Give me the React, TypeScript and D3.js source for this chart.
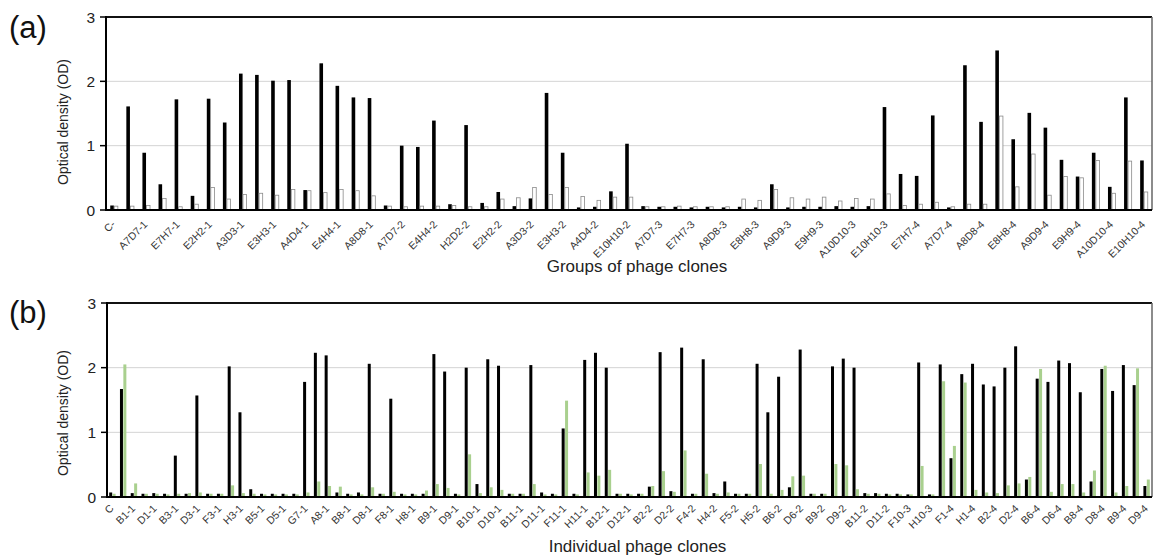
import React from 'react';
import * as d3 from 'd3';

const W = 1153;
const H = 559;

// Panel (a): groups of phage clones. The axis names every second group.
const groupLabels = [
  'C-', 'A7D7-1', 'E7H7-1', 'E2H2-1', 'A3D3-1', 'E3H3-1', 'A4D4-1', 'E4H4-1', 'A8D8-1',
  'A7D7-2', 'E4H4-2', 'H2D2-2', 'E2H2-2', 'A3D3-2', 'E3H3-2', 'A4D4-2', 'E10H10-2',
  'A7D7-3', 'E7H7-3', 'A8D8-3', 'E8H8-3', 'A9D9-3', 'E9H9-3', 'A10D10-3', 'E10H10-3',
  'E7H7-4', 'A7D7-4', 'A8D8-4', 'E8H8-4', 'A9D9-4', 'E9H9-4', 'A10D10-4', 'E10H10-4',
];
const groupTarget = [
  0.07, 1.61, 0.89, 0.40, 1.72, 0.22, 1.73, 1.36, 2.12, 2.10, 2.01, 2.02, 0.31, 2.28, 1.93, 1.75,
  1.74, 0.07, 1.00, 0.98, 1.39, 0.09, 1.32, 0.11, 0.28, 0.06, 0.18, 1.82, 0.89, 0.04, 0.05, 0.29,
  1.03, 0.06, 0.05, 0.05, 0.04, 0.05, 0.04, 0.05, 0.04, 0.40, 0.04, 0.05, 0.05, 0.06, 0.05, 0.06,
  1.60, 0.56, 0.53, 1.47, 0.04, 2.25, 1.37, 2.48, 1.10, 1.51, 1.28, 0.78, 0.52, 0.89, 0.36, 1.75,
  0.77,
];
const groupControl = [
  0.06, 0.06, 0.07, 0.18, 0.05, 0.09, 0.35, 0.17, 0.24, 0.26, 0.23, 0.32, 0.30, 0.27, 0.32, 0.30,
  0.22, 0.06, 0.05, 0.06, 0.06, 0.07, 0.05, 0.05, 0.17, 0.19, 0.35, 0.24, 0.35, 0.21, 0.15, 0.20,
  0.20, 0.05, 0.05, 0.06, 0.05, 0.05, 0.05, 0.17, 0.15, 0.32, 0.19, 0.17, 0.20, 0.14, 0.18, 0.17,
  0.25, 0.07, 0.09, 0.12, 0.05, 0.09, 0.09, 1.46, 0.36, 0.87, 0.23, 0.52, 0.50, 0.77, 0.26, 0.76,
  0.28,
];

// Panel (b): individual phage clones. The axis names every second clone.
const cloneLabels = [
  'C', 'B1-1', 'D1-1', 'B3-1', 'D3-1', 'F3-1', 'H3-1', 'B5-1', 'D5-1', 'G7-1', 'A8-1', 'B8-1',
  'D8-1', 'F8-1', 'H8-1', 'B9-1', 'D9-1', 'B10-1', 'D10-1', 'B11-1', 'D11-1', 'F11-1', 'H11-1',
  'B12-1', 'D12-1', 'B2-2', 'D2-2', 'F4-2', 'H4-2', 'F5-2', 'H5-2', 'B6-2', 'D6-2', 'B9-2',
  'D9-2', 'B11-2', 'D11-2', 'F10-3', 'H10-3', 'F1-4', 'H1-4', 'B2-4', 'D2-4', 'B6-4', 'D6-4',
  'B8-4', 'D8-4', 'B9-4', 'D9-4',
];
const cloneTarget = [
  0.07, 1.67, 0.06, 0.05, 0.06, 0.05, 0.64, 0.05, 1.57, 0.05, 0.05, 2.02, 1.31, 0.12, 0.05, 0.05,
  0.05, 0.05, 1.78, 2.23, 2.19, 0.07, 0.05, 0.07, 2.06, 0.05, 1.52, 0.05, 0.05, 0.05, 2.21, 1.94,
  0.05, 2.00, 0.20, 2.13, 2.03, 0.05, 0.05, 2.04, 0.07, 0.05, 1.06, 0.05, 2.12, 2.23, 2.00, 0.05,
  0.05, 0.05, 0.16, 2.24, 0.09, 2.31, 0.05, 2.13, 0.06, 0.24, 0.05, 0.05, 2.06, 1.31, 1.86, 0.15,
  2.28, 0.05, 0.05, 2.02, 2.14, 2.00, 0.06, 0.06, 0.05, 0.05, 0.04, 2.08, 0.04, 2.05, 0.60, 1.90,
  2.06, 1.74, 1.71, 2.00, 2.33, 0.27, 1.83, 1.78, 2.11, 2.07, 1.62, 0.24, 1.98, 1.64, 2.04, 1.73,
  0.17,
];
const cloneControl = [
  0.05, 2.05, 0.21, 0.05, 0.05, 0.04, 0.05, 0.06, 0.07, 0.05, 0.05, 0.18, 0.06, 0.05, 0.04, 0.04,
  0.04, 0.04, 0.07, 0.24, 0.17, 0.16, 0.04, 0.04, 0.15, 0.05, 0.08, 0.04, 0.04, 0.10, 0.20, 0.14,
  0.04, 0.66, 0.06, 0.15, 0.11, 0.05, 0.05, 0.20, 0.04, 0.04, 1.49, 0.04, 0.38, 0.33, 0.42, 0.05,
  0.04, 0.05, 0.17, 0.40, 0.08, 0.72, 0.05, 0.36, 0.05, 0.07, 0.05, 0.05, 0.51, 0.05, 0.11, 0.32,
  0.33, 0.05, 0.05, 0.51, 0.49, 0.12, 0.05, 0.05, 0.04, 0.04, 0.04, 0.48, 0.04, 1.79, 0.79, 1.77,
  0.11, 0.07, 0.06, 0.18, 0.21, 0.31, 1.98, 0.08, 0.20, 0.20, 0.07, 0.41, 2.03, 0.07, 0.17, 1.99,
  0.27,
];

const yTicks = [0, 1, 2, 3];

const FONT = "'Liberation Sans', Arial, sans-serif";

type PanelProps = {
  tag: string;
  tagY: number;
  left: number;
  right: number;
  top: number;
  bottom: number;
  labels: string[];
  target: number[];
  control: number[];
  controlFill: string;
  controlStroke: string;
  barWidth: number;
  labelY: number;
  labelSize: number;
  xTitle: string;
  xTitleY: number;
  yTitleY: number;
};

function Panel(p: PanelProps) {
  const idx = d3.range(p.target.length);
  const x = d3.scaleBand<number>().domain(idx).range([p.left, p.right]).padding(0);
  const y = d3.scaleLinear().domain([0, 3]).range([p.bottom, p.top]);
  const bw = x.bandwidth();
  const gap = 0.4;
  const center = (i: number) => (x(i) as number) + bw / 2;

  return (
    <g>
      <text x={9} y={p.tagY} fontFamily={FONT} fontSize={31} fill="#111">
        {p.tag}
      </text>

      {yTicks.slice(1, 3).map((t) => (
        <line key={'g' + t} x1={p.left} x2={p.right} y1={y(t)} y2={y(t)} stroke="#d4d4d4" strokeWidth={1} />
      ))}

      {idx.map((i) => (
        <g key={'b' + i}>
          <rect
            x={center(i) - gap / 2 - p.barWidth}
            y={y(p.target[i])}
            width={p.barWidth}
            height={y(0) - y(p.target[i])}
            fill="#000"
          />
          <rect
            x={center(i) + gap / 2}
            y={y(p.control[i])}
            width={p.barWidth}
            height={y(0) - y(p.control[i])}
            fill={p.controlFill}
            stroke={p.controlStroke}
            strokeWidth={p.controlStroke === 'none' ? 0 : 0.8}
          />
        </g>
      ))}

      {/* frame */}
      <line x1={p.left} x2={p.right} y1={p.top} y2={p.top} stroke="#111" strokeWidth={2} />
      <line x1={p.right} x2={p.right} y1={p.top} y2={p.bottom} stroke="#666" strokeWidth={1.5} />
      <line x1={p.left} x2={p.right} y1={p.bottom} y2={p.bottom} stroke="#000" strokeWidth={2} />
      <line x1={p.left} x2={p.left} y1={p.top - 1} y2={p.bottom + 1} stroke="#000" strokeWidth={2} />

      {yTicks.map((t) => (
        <g key={'t' + t}>
          <line x1={p.left - 6} x2={p.left} y1={y(t)} y2={y(t)} stroke="#000" strokeWidth={1.5} />
          <text
            x={p.left - 11}
            y={y(t)}
            dy="0.36em"
            textAnchor="end"
            fontFamily={FONT}
            fontSize={15.5}
            fill="#222"
          >
            {t}
          </text>
        </g>
      ))}

      {p.labels.map((name, j) => {
        const cx = center(j * 2) + 2;
        return (
          <text
            key={'l' + j}
            transform={`translate(${cx},${p.labelY}) rotate(-45)`}
            textAnchor="end"
            fontFamily={FONT}
            fontSize={p.labelSize}
            fill="#333"
          >
            {name}
          </text>
        );
      })}

      <text
        transform={`translate(63,${p.yTitleY}) rotate(-90)`}
        textAnchor="middle"
        dy="0.35em"
        fontFamily={FONT}
        fontSize={14}
        fill="#222"
      >
        Optical density (OD)
      </text>

      <text
        x={(p.left + p.right) / 2 + 8}
        y={p.xTitleY}
        textAnchor="middle"
        fontFamily={FONT}
        fontSize={17}
        fill="#222"
      >
        {p.xTitle}
      </text>
    </g>
  );
}

export default function App() {
  return (
    <svg
      width={W}
      height={H}
      viewBox={`0 0 ${W} ${H}`}
      style={{ position: 'absolute', left: 0, top: 0, background: '#fff' }}
    >
      <rect width={W} height={H} fill="#fff" />
      <Panel
        tag="(a)"
        tagY={38}
        left={106}
        right={1152}
        top={17}
        bottom={210}
        labels={groupLabels}
        target={groupTarget}
        control={groupControl}
        controlFill="#fff"
        controlStroke="#8a8a8a"
        barWidth={3.6}
        labelY={225}
        labelSize={10.5}
        xTitle="Groups of phage clones"
        xTitleY={272}
        yTitleY={122}
      />
      <Panel
        tag="(b)"
        tagY={323}
        left={107}
        right={1152}
        top={303}
        bottom={497}
        labels={cloneLabels}
        target={cloneTarget}
        control={cloneControl}
        controlFill="#a9d08e"
        controlStroke="none"
        barWidth={3}
        labelY={509}
        labelSize={10.5}
        xTitle="Individual phage clones"
        xTitleY={552}
        yTitleY={413}
      />
    </svg>
  );
}
